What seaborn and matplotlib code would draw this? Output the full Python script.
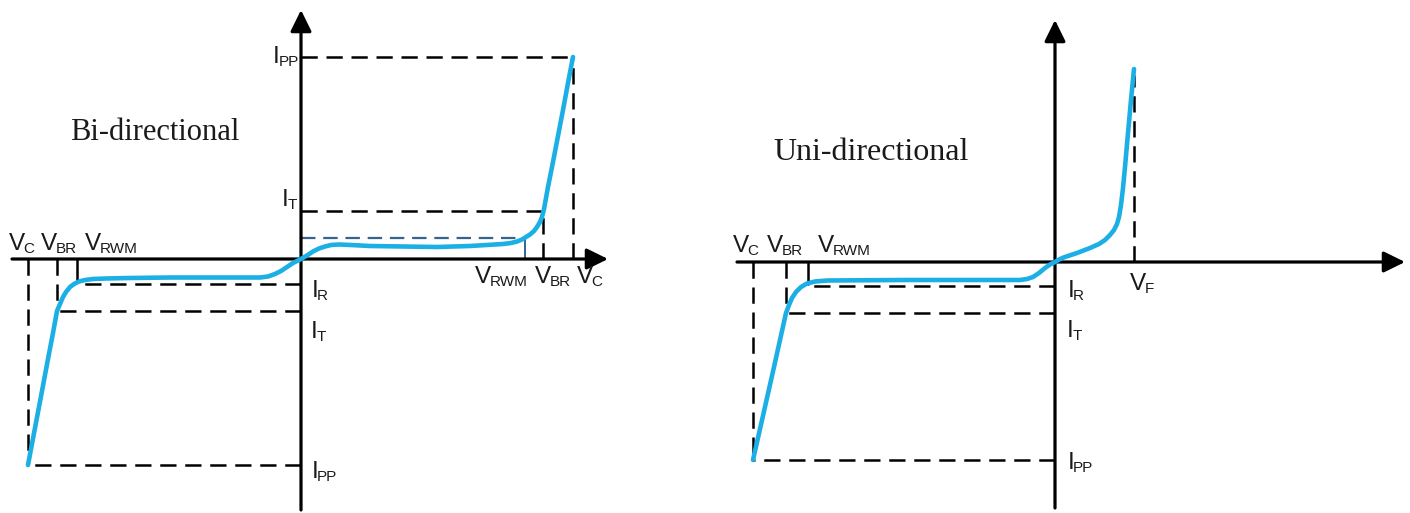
import matplotlib
matplotlib.use("Agg")
import matplotlib.pyplot as plt
from matplotlib.transforms import offset_copy
import seaborn as sns

# ---------------- data (arbitrary units, origin at the axes crossing) ----------------
# Bi-directional I-V curve
bi_v = [-273, -266, -259, -253, -248, -244, -241, -238, -235, -231, -227, -222, -216,
        -208, -195, -171, -131, -81, -41, -33, -26, -20, -14, -8, 0,
        6, 12, 18, 24, 30, 38, 50, 69, 136, 169, 202, 210, 216, 221, 225, 229, 233,
        236, 239, 241, 243, 247, 252, 257, 262, 267, 272]
bi_i = [-206, -169, -132, -100, -74, -52, -45, -38, -33, -28, -25, -22.5, -21,
        -20, -19.5, -19, -18.5, -18.5, -18.5, -17.5, -15, -12, -8, -4, 0,
        3.5, 7.5, 10.5, 12.5, 14, 14.5, 14, 13, 12, 13, 15, 16, 17.5, 19.5, 22, 24.5, 28,
        32, 37, 42, 50, 72, 97, 123, 149, 176, 202]
# reference levels of the bi-directional chart
bi_vneg = [-273, -244, -224]          # V_C, V_BR, V_RWM (negative side)
bi_ineg = [-206, -52, -25]            # I_PP, I_T, I_R (negative side)
bi_vpos = [272, 242, 224]             # V_C, V_BR, V_RWM (positive side)
bi_ipos = [202, 48, 21]               # I_PP, I_T, I at V_RWM (positive side)

# Uni-directional I-V curve
uni_v = [-302, -295, -288, -281, -275, -269, -266, -263, -259, -254, -248, -240, -228,
         -150, -80, -35, -28, -22, -16, -10, -5, 0, 5, 10, 16, 22, 35, 44, 50, 55, 59,
         62, 64, 66, 68, 70, 73, 76, 79]
uni_i = [-198, -167, -136, -105, -78, -51, -43, -36, -30, -25, -21.5, -19.5, -18.5,
         -18, -18, -18, -17, -15, -11, -6, -2.5, 0, 3, 5, 7, 9, 14, 18, 22, 27, 32,
         38, 45, 57, 74, 95, 129, 162, 193]
uni_vneg = [-302, -269, -247]         # V_C, V_BR, V_RWM
uni_ineg = [-198, -51, -24]           # I_PP, I_T, I_R
uni_vf = 79                           # V_F
uni_if = 187                          # top of V_F marker

titles = ["Bi-directional", "Uni-directional"]

# ---------------- style ----------------
sns.set_style("white")
plt.rcParams["font.family"] = ["Liberation Sans", "DejaVu Sans"]

BLUE = "#1CAFE6"
STEEL = "#35648F"
TXT = "#1a1a1a"
DASH = (0, (6.5, 3.5))
LW_D = 1.8
FS = 17.5
FS_SUB = 11

fig = plt.figure(figsize=(14.1, 5.13), dpi=100)
axL = fig.add_axes([0, 0, 0.5, 1])
axR = fig.add_axes([0.5, 0, 0.5, 1])
axL.set_xlim(-301, 404)
axL.set_ylim(-254, 259)
axR.set_xlim(-350, 355)
axR.set_ylim(-251, 262)
for ax in (axL, axR):
    ax.set_axis_off()
renderer = fig.canvas.get_renderer()


def axis_arrow(ax, x0, x1, y0, y1):
    kw = dict(arrowstyle="-|>,head_length=0.65,head_width=0.32", mutation_scale=20,
              lw=2.3, color="black", shrinkA=0, shrinkB=0)
    ax.annotate("", xy=(x1, 0), xytext=(x0, 0), arrowprops=kw, zorder=3)
    ax.annotate("", xy=(0, y1), xytext=(0, y0), arrowprops=kw, zorder=3)


def dashed(ax, xs, ys, color="black", lw=LW_D):
    ax.plot(xs, ys, color=color, lw=lw, ls=DASH, zorder=2, dash_capstyle="butt")


def lab(ax, x, y, main, sub):
    t = ax.text(x, y, main, fontsize=FS, color=TXT, ha="left", va="baseline")
    bb = t.get_window_extent(renderer)
    xd = ax.transData.inverted().transform((bb.x1, 0))[0]
    tr = offset_copy(ax.transData, fig=fig, x=-1.5, y=-3, units="dots")
    ax.text(xd, y, sub, fontsize=FS_SUB, color=TXT, ha="left", va="baseline",
            transform=tr)


def curve(ax, xs, ys):
    sns.lineplot(x=xs, y=ys, sort=False, ax=ax, color=BLUE, lw=3.3, zorder=4,
                 estimator=None, solid_joinstyle="round", solid_capstyle="round")


# ---------------- Bi-directional ----------------
axis_arrow(axL, -289, 307, -251, 249)
vC, vBR, vRWM = bi_vneg
iPP, iT, iR = bi_ineg
dashed(axL, [vC, vC], [0, iPP])
dashed(axL, [0, vC], [iPP, iPP])
dashed(axL, [vBR, vBR], [0, iT])
dashed(axL, [0, vBR], [iT, iT])
axL.plot([vRWM, vRWM], [0, iR + 2], color="black", lw=LW_D, zorder=2)
dashed(axL, [0, vRWM], [iR, iR])
pC, pBR, pRWM = bi_vpos
jPP, jT, jR = bi_ipos
dashed(axL, [0, pC], [jPP, jPP])
dashed(axL, [pC, pC], [0, jPP])
dashed(axL, [0, pBR], [jT, jT])
dashed(axL, [pBR, pBR], [0, jT])
dashed(axL, [0, pRWM], [jR, jR], color=STEEL, lw=1.6)
axL.plot([pRWM, pRWM], [0, jR], color=STEEL, lw=1.4, zorder=2)

curve(axL, bi_v, bi_i)

lab(axL, -292, 9, "V", "C")
lab(axL, -260, 9, "V", "BR")
lab(axL, -216, 9, "V", "RWM")
lab(axL, 174, -24, "V", "RWM")
lab(axL, 234, -24, "V", "BR")
lab(axL, 276, -24, "V", "C")
lab(axL, -28, 196, "I", "PP")
lab(axL, -19, 53, "I", "T")
lab(axL, 11, -38, "I", "R")
lab(axL, 10, -79, "I", "T")
lab(axL, 11, -219, "I", "PP")
axL.text(-231, 119, titles[0], fontsize=22, family="Liberation Serif", color=TXT,
         ha="left", va="baseline")

# ---------------- Uni-directional ----------------
axis_arrow(axR, -318, 350, -246, 242)
uC, uBR, uRWM = uni_vneg
kPP, kT, kR = uni_ineg
dashed(axR, [uC, uC], [0, kPP])
dashed(axR, [0, uC], [kPP, kPP])
dashed(axR, [uBR, uBR], [0, kT])
dashed(axR, [0, uBR], [kT, kT])
axR.plot([uRWM, uRWM], [0, kR + 2], color="black", lw=LW_D, zorder=2)
dashed(axR, [0, uRWM], [kR, kR])
dashed(axR, [uni_vf, uni_vf], [0, uni_if])

curve(axR, uni_v, uni_i)

lab(axR, -322, 10, "V", "C")
lab(axR, -288, 10, "V", "BR")
lab(axR, -237, 10, "V", "RWM")
lab(axR, 13, -35, "I", "R")
lab(axR, 12, -75, "I", "T")
lab(axR, 13, -207, "I", "PP")
lab(axR, 75, -28, "V", "F")
axR.text(-282, 102, titles[1], fontsize=23, family="Liberation Serif", color=TXT,
         ha="left", va="baseline")

fig.savefig("out.png", dpi=100, facecolor="white")
